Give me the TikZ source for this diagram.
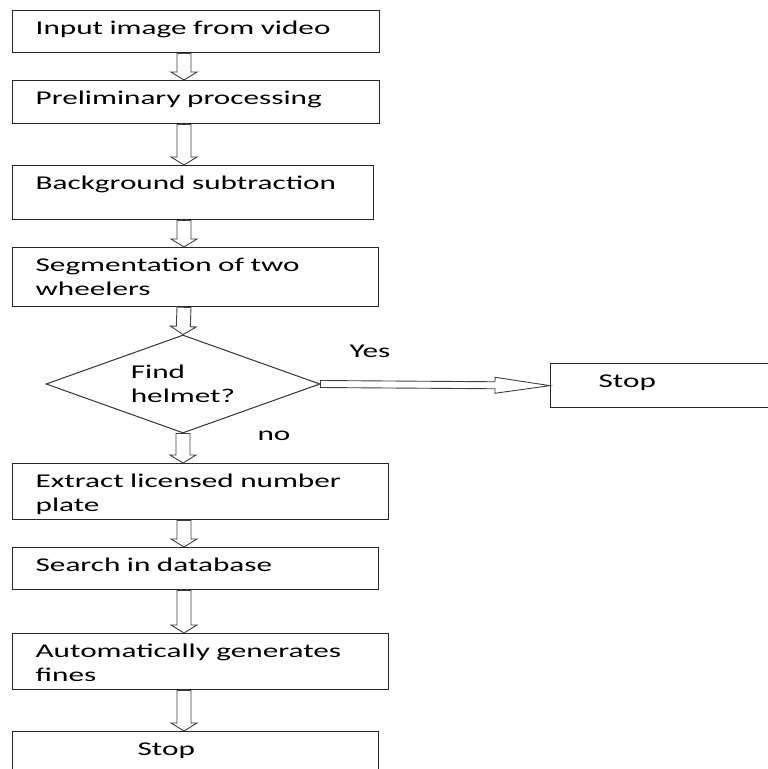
\documentclass[tikz,border=0pt]{standalone}
\usepackage{fontspec}
\setmainfont{Carlito}[FakeStretch=1.6]
\usepackage{tikz}
\usetikzlibrary{calc, positioning, shapes.geometric}

\tikzset{
    procbox/.style={draw=black!85, line width=1.3pt, anchor=north west, align=left,
        inner xsep=23pt, inner ysep=0pt, text height=24pt},
    decision/.style={diamond, draw=black!80, line width=1pt, aspect=2.8, inner sep=0pt,
        minimum width=274pt, minimum height=98pt, align=left},
    arrowline/.style={draw=black!75, line width=0.9pt, fill=white, line join=miter}
}

% hollow block arrow: start, end, shaft half width, head half width, head length
\newcommand{\fatarrow}[5]{%
    \coordinate (fa-a) at (#1);
    \coordinate (fa-b) at (#2);
    \coordinate (fa-h) at ($(fa-b)!#5!(fa-a)$);
    \draw[arrowline] ($(fa-a)!#3!90:(fa-b)$) -- ($(fa-h)!#3!90:(fa-b)$)
        -- ($(fa-h)!#4!90:(fa-b)$) -- (fa-b) -- ($(fa-h)!#4!-90:(fa-b)$)
        -- ($(fa-h)!#3!-90:(fa-b)$) -- ($(fa-a)!#3!-90:(fa-b)$) -- cycle;
}

\begin{document}
\begin{tikzpicture}[x=1pt, y=-1pt, font=\fontsize{19.5}{24}\selectfont]
    \path[use as bounding box, fill=white] (0,0) rectangle (768,769);
    \coordinate (spine) at (184,0);

    % 处理步骤
    \node[procbox, text width=321pt, text depth=18pt] (input) at (12,10) {Input image from video};
    \node[procbox, text width=321pt, text depth=19pt] (prelim) at (12,80) {Preliminary processing};
    \node[procbox, text width=315pt, text depth=30pt] (backsub) at (12,165) {Background subtraction};
    \node[procbox, text width=320pt, text depth=35pt] (segment) at (12,247) {Segmentation of two\\wheelers};

    % 判断
    \node[decision] (helmet) at (183,384) {Find\\helmet?};
    \node[procbox, text width=202pt, text depth=20pt] (stopr) at (550,363) {\hspace*{25pt}Stop};
    \node (yes) at (370,351) {Yes};
    \node (no) at (274,436) {no};

    % 后续步骤
    \node[procbox, text width=330pt, text depth=32pt] (extract) at (12,463) {Extract licensed number\\plate};
    \node[procbox, text width=320pt, text depth=18pt] (search) at (12,547) {Search in database};
    \node[procbox, text width=330pt, text depth=32pt] (autofine) at (12,633) {Automatically generates\\fines};
    \node[procbox, text width=320pt, text depth=40pt] (stopb) at (12,731) {\hspace*{102pt}Stop};

    % 箭头
    \fatarrow{input.south -| spine}{prelim.north -| spine}{7pt}{13pt}{8pt}
    \fatarrow{prelim.south -| spine}{backsub.north -| spine}{7pt}{13pt}{8pt}
    \fatarrow{backsub.south -| spine}{segment.north -| spine}{7pt}{13pt}{8pt}
    \fatarrow{segment.south -| spine}{helmet.north}{7pt}{13pt}{8pt}
    \fatarrow{helmet.south}{extract.north -| helmet.south}{7pt}{13pt}{8pt}
    \fatarrow{extract.south -| spine}{search.north -| spine}{7pt}{13pt}{8pt}
    \fatarrow{search.south -| spine}{autofine.north -| spine}{7pt}{13pt}{8pt}
    \fatarrow{autofine.south -| spine}{stopb.north -| spine}{7pt}{13pt}{8pt}
    \fatarrow{helmet.east}{stopr.west}{3.5pt}{8pt}{55pt}
\end{tikzpicture}
\end{document}
